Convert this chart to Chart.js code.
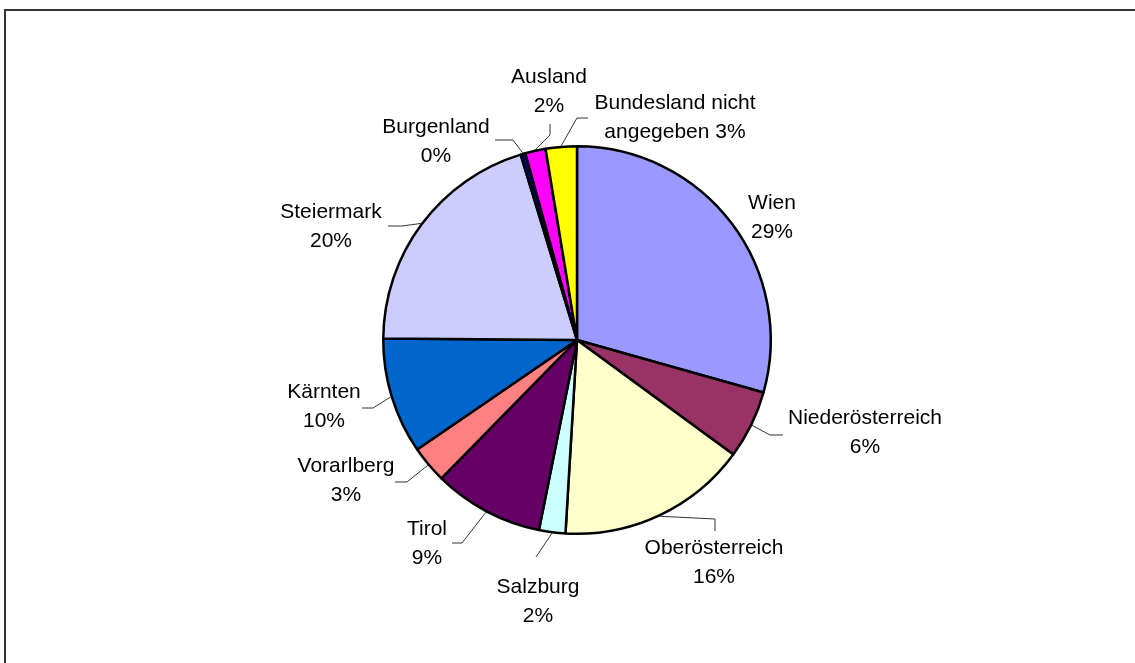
<!DOCTYPE html>
<html>
<head>
<meta charset="utf-8">
<script src="https://cdn.jsdelivr.net/npm/chart.js@4"></script>
<style>
  html, body { margin: 0; padding: 0; background: #fff; }
  #wrap { width: 1135px; height: 663px; position: relative; }
</style>
</head>
<body>
<div id="wrap"><canvas id="pie"></canvas></div>
<script>
// data (shares in %)
const regions = [
  "Wien", "Niederösterreich", "Oberösterreich", "Salzburg", "Tirol",
  "Vorarlberg", "Kärnten", "Steiermark", "Burgenland", "Ausland",
  "Bundesland nicht angegeben",
];
const shares = [29.4, 5.7, 15.9, 2.2, 9.2, 3.1, 9.7, 20.2, 0.4, 1.7, 2.6];
const colors = [
  "#9999FF", "#993366", "#FFFFCC", "#CCFFFF", "#660066",
  "#FF8080", "#0066CC", "#CCCCFF", "#000080", "#FF00FF", "#FFFF00",
];

// label layout, offsets from the pie centre (text lines, leader start + elbow)
const labelLines = [
  ["Wien"], ["Niederösterreich"], ["Oberösterreich"], ["Salzburg"], ["Tirol"],
  ["Vorarlberg"], ["Kärnten"], ["Steiermark"], ["Burgenland"], ["Ausland"],
  ["Bundesland nicht", "angegeben"],
];
const labelPos = [
  [195, -137], [288, 78], [137, 208], [-39, 247], [-150, 189],
  [-231, 126], [-253, 52], [-246, -128], [-141, -213], [-28, -263], [98, -237],
];
const leaders = [
  null,
  [[206, 95], [193, 95]],
  [[138, 191], [138, 179]],
  [[-41, 217], [-41, 217]],
  [[-125, 203], [-115, 203]],
  [[-182, 142], [-170, 142]],
  [[-215, 68], [-204, 68]],
  [[-189, -114], [-175, -114]],
  [[-82, -200], [-64, -200]],
  [[-27, -216], [-27, -205]],
  [[11, -222], [0, -222]],
];

const frame = {
  id: "frame",
  beforeDraw(chart) {
    const c = chart.ctx;
    c.save();
    c.strokeStyle = "#333";
    c.lineWidth = 2;
    c.beginPath();
    c.moveTo(5, chart.height);
    c.lineTo(5, 10);
    c.lineTo(chart.width, 10);
    c.stroke();
    c.restore();
  },
};

const pieLabels = {
  id: "pieLabels",
  afterDatasetsDraw(chart) {
    const c = chart.ctx;
    const total = shares.reduce((a, b) => a + b, 0);
    const arcs = chart.getDatasetMeta(0).data;
    c.save();
    arcs.forEach((arc, i) => {
      const { x, y, startAngle, endAngle, outerRadius } = arc.getProps(
        ["x", "y", "startAngle", "endAngle", "outerRadius"], true);
      const mid = (startAngle + endAngle) / 2;
      const ax = x + Math.cos(mid) * (outerRadius + 1);
      const ay = y + Math.sin(mid) * (outerRadius + 1);
      const ld = leaders[i];
      if (ld) {
        c.strokeStyle = "#333";
        c.lineWidth = 1;
        c.beginPath();
        c.moveTo(x + ld[0][0], y + ld[0][1]);
        c.lineTo(x + ld[1][0], y + ld[1][1]);
        c.lineTo(ax, ay);
        c.stroke();
      }
      const pct = Math.round(shares[i] / total * 100) + "%";
      let lines = labelLines[i].slice();
      if (lines.length > 1) lines[lines.length - 1] += " " + pct;
      else lines.push(pct);
      c.fillStyle = "#000";
      c.font = "21px 'Liberation Sans', Arial, sans-serif";
      c.textAlign = "center";
      c.textBaseline = "middle";
      lines.forEach((t, k) => {
        c.fillText(t, x + labelPos[i][0], y + labelPos[i][1] + k * 29);
      });
    });
    c.restore();
  },
};

new Chart(document.getElementById("pie"), {
  type: "pie",
  data: {
    labels: regions,
    datasets: [{
      data: shares,
      backgroundColor: colors,
      borderColor: "#000",
      borderWidth: 2.5,
    }],
  },
  options: {
    responsive: true,
    maintainAspectRatio: false,
    animation: false,
    devicePixelRatio: 1,
    layout: { padding: { left: 382, right: 363, top: 145, bottom: 128 } },
    plugins: {
      legend: { display: false },
      tooltip: { enabled: false },
    },
  },
  plugins: [frame, pieLabels],
});
</script>
</body>
</html>
